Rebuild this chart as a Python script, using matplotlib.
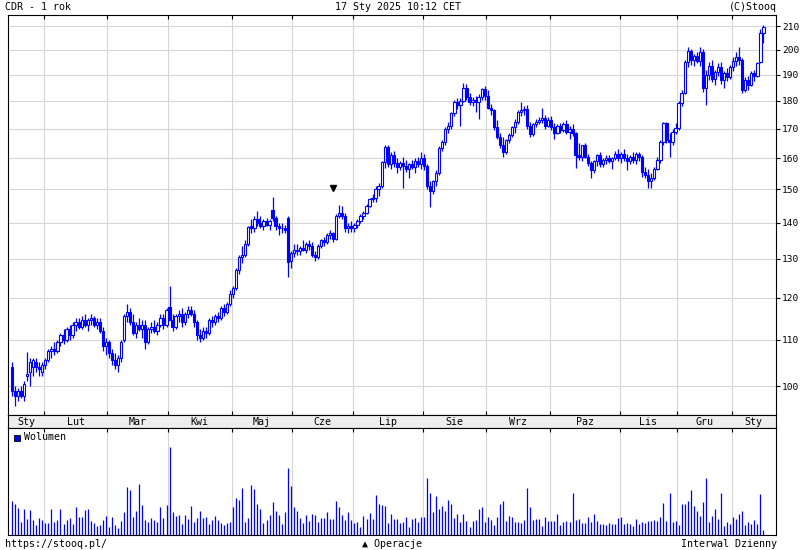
import numpy as np
import pandas as pd
import matplotlib
matplotlib.use('Agg')
import matplotlib.pyplot as plt
from matplotlib.patches import Rectangle
from matplotlib.ticker import NullLocator, FixedLocator, FixedFormatter

# ---------------- data ----------------
holidays = ['2024-03-29', '2024-04-01', '2024-05-01', '2024-05-03', '2024-05-30',
            '2024-08-15', '2024-11-01', '2024-11-11', '2024-12-24', '2024-12-25',
            '2024-12-26', '2024-12-31', '2025-01-01', '2025-01-06']
dates = pd.bdate_range('2024-01-17', '2025-01-17', freq='C', holidays=holidays)

month_labels = ['Sty', 'Lut', 'Mar', 'Kwi', 'Maj', 'Cze', 'Lip', 'Sie', 'Wrz',
                'Paz', 'Lis', 'Gru', 'Sty']
price_ticks = [100, 110, 120, 130, 140, 150, 160, 170, 180, 190, 200, 210]

opens = [
    # Jan
    104, 99, 98, 99, 98, 102, 103, 104, 105, 104, 103,
    # Feb
    104.5, 105.5, 107.5, 108, 107.5, 109.5, 111, 110, 112.5, 111, 113.5, 114, 113, 114.5,
    113.5, 114.5, 115, 113.5, 114, 112, 108.5,
    # Mar
    109.5, 107, 105.5, 104.5, 106, 110, 115.5, 116.5, 114, 111.5, 113.5, 112.5, 113.5,
    109.5, 112.5, 113, 112, 113.5, 115, 113.5,
    # Apr
    117.7, 114.5, 113, 115.5, 116, 114, 116, 117, 116, 114, 111, 110.5, 112, 111.5, 114.5,
    114, 115.5, 115, 117.5, 116.5, 118.5,
    # May
    121, 122.5, 127, 130.5, 131, 134, 139, 138.5, 141, 140, 139, 140.5, 139.5, 143.7,
    141.4, 139, 138.5, 138.5, 141.4, 129.5,
    # Jun
    131.5, 132.5, 132, 133, 132.5, 134, 133.5, 131, 130.5, 133.5, 135, 134.5, 136.5, 137,
    135.5, 142, 143, 142, 138.5, 139,
    # Jul
    138.5, 139.5, 140.5, 142, 143, 145, 147, 147.5, 150, 151, 158.6, 163.8, 158, 161,
    158.5, 157, 158.5, 157.5, 156.5, 158, 157, 159, 158,
    # Aug
    160, 157.5, 151, 149.5, 152.5, 155, 163.4, 165.5, 170, 171, 175.5, 179.6, 178.5, 180,
    185, 181.4, 179.5, 180.5, 179.5, 181.5, 184.5,
    # Sep
    182, 177.5, 176.5, 170.5, 167, 164.5, 162, 166, 167.8, 170.5, 172.4, 175.9, 176.5, 177,
    171, 168, 171.5, 172.5, 173, 173.8, 171,
    # Oct
    173, 170.5, 168.5, 171, 169.5, 171.5, 169, 170, 168.5, 161, 160.5, 164.3, 160.5, 158.5,
    156, 158.9, 161, 158, 159.5, 160.1, 159, 160, 161.5,
    # Nov
    160, 161.5, 160, 159, 160.5, 159.5, 161.5, 160.5, 155.5, 154.5, 152.5, 153.6, 156.5,
    159.4, 165.4, 172, 166, 165.5, 169,
    # Dec
    170.3, 179.2, 183, 195, 199.5, 196, 197.5, 195.5, 199, 185, 190, 193.5, 188.5, 191, 193,
    188, 190.5, 189,
    # Jan 2025
    193, 195.5, 197, 196, 184, 188, 186, 190.5, 189.5, 195, 207,
]
highs = [
    105, 100, 99.5, 100, 101, 107.3, 106, 106, 106, 105, 105,
    106, 108, 108.5, 109.5, 110, 111.5, 112.5, 113, 113.5, 114, 115, 115, 115.5, 116,
    115, 116, 115.5, 115, 115, 113, 110.5,
    110, 108, 107, 106.5, 110, 116, 118.5, 117.5, 116, 114, 115, 114.5, 114.5,
    113, 114, 114.5, 114, 116, 116, 117.5,
    123, 116, 116, 117, 117.5, 116.5, 118, 118, 117, 114.5, 112.5, 113, 113, 115, 115.5,
    116, 116.5, 118, 118.5, 119, 122,
    123, 127.5, 131, 133.5, 135, 139, 141, 142, 143.5, 142, 141, 141.5, 141, 147.6,
    142, 140, 140, 139.5, 142, 132,
    134, 134, 133.5, 135, 134.5, 135, 134.5, 132, 134, 135.5, 136, 137, 138, 137.5,
    142.5, 145.2, 145, 143, 140, 140.5,
    140, 141, 142.5, 143.5, 145.5, 147.5, 148.5, 151, 152, 159, 164.3, 164.3, 162,
    162.5, 160, 159, 160.5, 159.5, 158.5, 159.5, 160, 160.5, 162,
    161.5, 158, 152.5, 153, 156, 164, 166, 170.5, 172.5, 176, 180.5, 181, 181, 186.8,
    186.5, 183, 181.5, 182, 182.5, 185, 185.5,
    184, 179, 177, 173, 168.5, 167, 166.5, 168.5, 171, 173.5, 176.5, 179.6, 178, 178.5,
    172.5, 172, 173.5, 174, 177.5, 175, 174,
    174.5, 172, 171.5, 172, 172.5, 173, 171, 171.5, 169, 165, 164.5, 165, 161.5, 159,
    159.5, 161.5, 162, 160, 161, 161, 160.5, 162.5, 163,
    162, 163, 161.5, 161, 162, 162, 162, 161, 157, 156.5, 155, 157, 160.5,
    166, 172.5, 172.5, 168.5, 170, 172,
    180, 184, 196, 201, 200.5, 198.5, 199, 201, 200.5, 192, 195, 196, 192, 194.5,
    195, 191.5, 192.5, 194,
    197, 199, 201, 196.5, 189, 189.5, 191.5, 192, 195, 209, 210.5,
]
lows = [
    98, 96, 97, 97.5, 97, 101, 100, 102, 103, 102, 102,
    103.5, 105, 106, 106.5, 107, 108.5, 109, 109.5, 110, 110.5, 112, 112.5, 112.5, 113,
    112, 113.5, 113, 112.5, 111.5, 107.5, 106.5,
    106, 104.5, 103.5, 103, 105, 109.5, 114, 113.5, 111, 110.5, 112, 110.5, 108,
    109, 111.5, 111.5, 111, 113, 112.5, 113,
    114.5, 112, 112.5, 114, 113, 113.5, 115, 115.5, 113, 110, 109.5, 110, 110.5, 111, 113,
    113.5, 114, 114.5, 115.5, 116, 118,
    120, 122, 126, 129, 130.5, 133.5, 137, 137.5, 139, 138.5, 138, 139, 138, 140.5,
    138, 136.5, 137, 137, 125.2, 127.5,
    130.5, 131, 131, 132, 131.5, 132.5, 130.5, 129.5, 130, 133, 133.5, 134, 135.5, 134.5,
    135, 141.5, 141, 137.5, 137, 137.5,
    137.5, 138.5, 140, 141, 142.5, 144.5, 146, 146, 148, 150.5, 156.7, 157, 156.5,
    157, 155, 156, 150.4, 155.5, 153.5, 156.5, 155, 157, 156.5,
    156, 150, 144.6, 148.5, 151, 154.5, 162.5, 164.5, 168.5, 170, 174.5, 177, 171, 179.5,
    180.5, 178.5, 178, 176, 173.5, 180.5, 180.5,
    177, 175, 169.5, 166.5, 163.5, 160.5, 161.5, 165, 167, 168.5, 171.5, 174.5, 175, 170,
    167, 167.5, 170.5, 171.5, 172, 170, 170.5,
    169.5, 166.5, 168, 168.5, 169, 168, 166.5, 167.5, 156.7, 159.5, 159, 160, 157.5, 153.5,
    155, 157.5, 157, 157, 158, 158.5, 156.5, 159.5, 159,
    158.5, 159, 156, 158, 158.5, 158, 159, 154, 153.5, 150.4, 150.5, 153, 156,
    158.5, 164.5, 165, 160.5, 164.5, 168,
    169.5, 178, 182.5, 193, 194, 193.5, 194.5, 193.5, 183.3, 178.5, 188, 187, 186, 189.5,
    186.5, 185, 187.5, 188.5,
    191.5, 193.5, 194, 183, 183.5, 184, 185.5, 187.5, 189, 194.5, 203,
]
closes = [
    99, 98, 99, 98, 100.5, 102.5, 105, 105.5, 104, 103.5, 104.5,
    105.5, 107.5, 108, 107.5, 109.5, 111, 110, 112.5, 111, 113.5, 114, 113, 114.5, 113.5,
    114.5, 115, 113.5, 114, 112, 108.5, 109.5,
    107, 105.5, 104.5, 106, 109.5, 115.5, 116.5, 114, 111.5, 113.5, 112.5, 113.5, 109.5,
    112.5, 113, 112, 113.5, 115, 113.5, 117,
    114.6, 113, 115.5, 116, 114, 116, 117, 116, 114, 111, 110.5, 112, 111.5, 114.5, 114,
    115.5, 115, 117.5, 116.5, 118.5, 121,
    122.5, 127, 130.5, 131, 134, 138.8, 138.5, 141, 140, 139, 140.5, 139.5, 140.5, 141.4,
    139, 138.5, 138.5, 138, 129.1, 131.5,
    132.5, 132, 133, 132.5, 134, 133.5, 131, 130.5, 133.5, 135, 134.5, 136.5, 137, 135.5,
    142, 143, 142, 138.5, 139, 138.5,
    139.5, 140.5, 142, 143, 145, 147, 147.5, 150, 151, 158.6, 163.8, 158, 161, 158.5,
    157, 158.5, 157.5, 156.5, 158, 157, 159, 158, 160,
    157.5, 151, 149.5, 152.5, 155, 163.4, 165.5, 170, 171, 175.5, 179.6, 178.5, 180, 185,
    181.4, 179.5, 180.5, 179.5, 181.5, 184.5, 182,
    177.5, 176.5, 170.5, 167, 164.5, 162, 166, 167.8, 170.5, 172.4, 175.9, 176.5, 177, 171,
    168, 171.5, 172.5, 173, 173.8, 171, 173,
    170.5, 168.5, 171, 169.5, 171.5, 169, 170, 168.5, 161, 160.5, 164.3, 160.5, 158.5, 156,
    158.9, 161, 158, 159.5, 160.1, 159, 160, 161.5, 160,
    161.5, 160, 159, 160.5, 159.5, 161.5, 160.5, 155.5, 154.5, 152.5, 153.6, 156.5, 159.4,
    165.4, 172, 166, 165.5, 169, 170.3,
    179.2, 183, 195, 199.5, 196, 197.5, 195.5, 199, 185, 190, 193.5, 188.5, 191, 193, 188,
    190.5, 189, 193,
    195.5, 197, 196, 184, 188, 186, 190.5, 189.5, 194.5, 207, 209.5,
]
# volume, thousands of shares
volumes = [v * 12 for v in [
    34, 31, 27, 13, 26, 16, 25, 15, 10, 17, 15, 12, 12, 26, 13, 15, 26, 11, 15, 17,
    11, 28, 18, 18, 25, 26, 14, 12, 9, 10, 15, 19, 8, 18, 10, 7, 14, 23, 48, 45,
    18, 24, 51, 30, 15, 13, 17, 15, 13, 28, 17, 30, 88, 23, 19, 20, 11, 20, 16, 29,
    13, 17, 24, 17, 18, 11, 15, 19, 15, 12, 10, 12, 13, 28, 37, 35, 47, 13, 17, 50,
    46, 31, 26, 12, 15, 20, 33, 24, 20, 11, 23, 67, 49, 28, 24, 17, 12, 20, 14, 21,
    20, 13, 17, 17, 23, 16, 16, 34, 28, 20, 15, 23, 15, 12, 13, 8, 19, 16, 22, 16,
    40, 31, 30, 29, 12, 21, 16,
    16, 12, 13, 18, 8, 16, 17, 13, 18, 18, 57, 42, 23, 39, 26, 29, 24, 35, 31, 17,
    21, 13, 21, 14, 8, 14, 15, 26, 28, 13, 18, 15, 10, 18, 31, 34, 14, 19, 18, 13,
    13, 12, 15, 47, 28, 15, 16, 16, 9, 18, 14, 14, 14, 21, 10, 13, 14, 13, 42, 15,
    16, 12, 12, 18, 13, 21, 14, 11, 11, 10, 12, 11, 11, 17, 18, 11, 12, 11, 9, 16,
    11, 13, 12, 14, 14, 15, 14, 18, 32, 14, 42, 13, 14, 10, 31, 31, 34, 45, 29, 24,
    19, 33, 57, 13, 19, 26, 16, 42, 9, 13, 11, 18, 16, 21, 24, 10, 13, 11, 15, 11,
    41, 5]]
operation_index = 106
operation_price = 150.4

# ---------------- drawing ----------------
n = len(closes)
x = np.arange(n)
o = np.array(opens); h = np.array(highs); l = np.array(lows); c = np.array(closes)
vol = np.array(volumes)
BLUE = '#0000ff'
GRID = '#d6d6d6'
MONO = ['DejaVu Sans Mono', 'DejaVu Sans']
FS = 7.2

W, H = 800, 550
fig = plt.figure(figsize=(W / 100, H / 100), dpi=100)
fig.patch.set_facecolor('white')

def fx(px):
    return px / W

def fy(py):
    return 1 - py / H

left_px, right_px = 8, 776
x0_px, step_px = 12, 3.03
xmin = (left_px - x0_px) / step_px
xmax = (right_px - x0_px) / step_px

ax = fig.add_axes([fx(left_px), fy(415), fx(right_px - left_px), 400 / H])
band = fig.add_axes([fx(left_px), fy(428), fx(right_px - left_px), 13 / H])
vax = fig.add_axes([fx(left_px), fy(535), fx(right_px - left_px), 107 / H])

# month boundaries
bounds = [i - 0.5 for i in range(1, n) if dates[i].month != dates[i - 1].month]
edges = [xmin] + bounds + [xmax]
centers = [(edges[k] + edges[k + 1]) / 2 for k in range(len(edges) - 1)]

# price panel
ax.set_yscale('log')
ax.set_xlim(xmin, xmax)
ax.set_ylim(94.2, 214.9)
ax.vlines(x, l, h, color=BLUE, lw=0.9, zorder=2)
up = c >= o
dn = ~up
body_w = 0.75
ax.bar(x[up], c[up] - o[up], bottom=o[up], width=body_w, facecolor='white',
       edgecolor=BLUE, linewidth=0.8, zorder=3)
ax.bar(x[dn], o[dn] - c[dn], bottom=c[dn], width=body_w, facecolor=BLUE,
       edgecolor=BLUE, linewidth=0.8, zorder=3)
ax.plot([operation_index], [operation_price], marker='v', color='black', ms=5,
        linestyle='none', zorder=4)

ax.yaxis.set_major_locator(FixedLocator(price_ticks))
ax.yaxis.set_major_formatter(FixedFormatter([str(t) for t in price_ticks]))
ax.yaxis.set_minor_locator(NullLocator())
ax.yaxis.tick_right()
ax.tick_params(axis='y', which='major', direction='out', length=3, width=0.8,
               labelsize=6.8, pad=1.5, colors='black')
for t in ax.get_yticklabels():
    t.set_family(MONO)
ax.set_xticks(bounds)
ax.tick_params(axis='x', which='major', direction='in', length=3, width=0.8,
               top=True, bottom=True, labelbottom=False)
ax.grid(True, which='major', color=GRID, lw=0.8, zorder=0)
ax.set_axisbelow(True)
for s in ax.spines.values():
    s.set_color('black'); s.set_linewidth(0.8)

# month label band
band.set_xlim(xmin, xmax)
band.set_ylim(0, 1)
band.set_facecolor('#eeeeee')
band.set_xticks([]); band.set_yticks([])
for s in band.spines.values():
    s.set_color('black'); s.set_linewidth(0.8)
for cx, lab in zip(centers, month_labels):
    band.text(cx, 0.45, lab, ha='center', va='center', fontsize=FS, family=MONO)

# volume panel
vax.set_xlim(xmin, xmax)
vax.set_ylim(0, 107 * 12)
vax.vlines(x, 0, vol, color=BLUE, lw=0.9, zorder=2)
vax.set_xticks(bounds)
vax.set_yticks([])
vax.tick_params(axis='x', direction='in', length=3, width=0.8, top=True, bottom=False,
                labelbottom=False)
vax.grid(True, axis='x', color=GRID, lw=0.8, zorder=0)
vax.set_axisbelow(True)
for s in vax.spines.values():
    s.set_color('black'); s.set_linewidth(0.8)

# legend
fig.patches.append(Rectangle((fx(14), fy(441)), fx(6), 6 / H, transform=fig.transFigure,
                             facecolor=BLUE, edgecolor='black', lw=0.6))
fig.text(fx(24), fy(437.5), 'Wolumen', ha='left', va='center', fontsize=FS, family=MONO)

# header / footer
fig.text(fx(5), fy(7), 'CDR - 1 rok', ha='left', va='center', fontsize=FS, family=MONO)
fig.text(fx(398), fy(7), '17 Sty 2025 10:12 CET', ha='center', va='center', fontsize=FS,
         family=MONO)
fig.text(fx(777), fy(7), '(C)Stooq', ha='right', va='center', fontsize=FS, family=MONO)
fig.text(fx(5), fy(544), 'https://stooq.pl/', ha='left', va='center', fontsize=FS,
         family=MONO)
fig.text(fx(362), fy(544), '\u25b2 Operacje', ha='left', va='center', fontsize=FS,
         family=MONO)
fig.text(fx(777), fy(544), 'Interwal Dzienny', ha='right', va='center', fontsize=FS,
         family=MONO)

fig.savefig('out.png', dpi=100)
